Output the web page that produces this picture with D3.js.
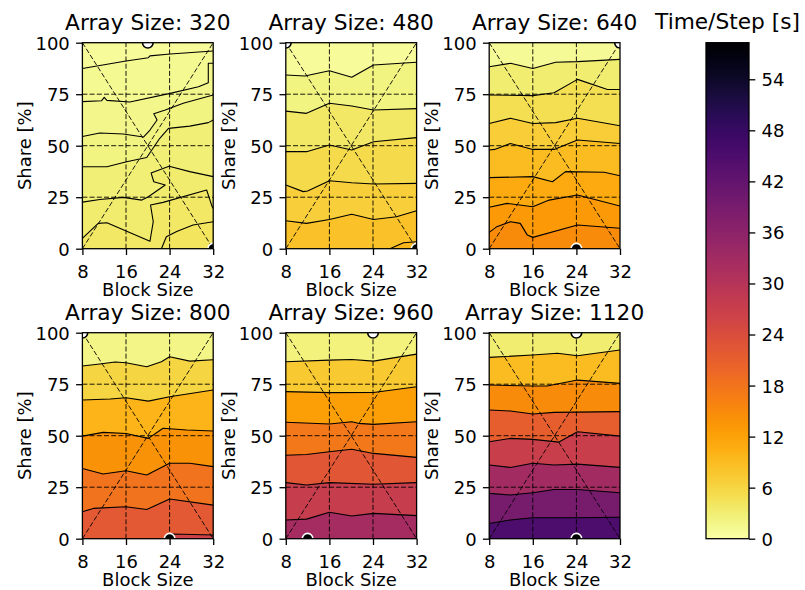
<!DOCTYPE html>
<html>
<head>
<meta charset="utf-8">
<script src="https://cdn.jsdelivr.net/npm/d3@7"></script>
<style>
  body { margin: 0; background: #fff; }
  svg { display: block; font-family: "DejaVu Sans", sans-serif; }
</style>
</head>
<body>
<svg id="chart" width="805" height="590"></svg>
<script>
// ---- data -------------------------------------------------------------
const arraySizes = [320, 480, 640, 800, 960, 1120];
const blockTicks = [8, 16, 24, 32];
const shareTicks = [0, 25, 50, 75, 100];
const cbarTicks = [0, 6, 12, 18, 24, 30, 36, 42, 48, 54];
const timeMax = 58.3;

// time/step value of each filled band, listed from the top band down
const bands320 = [0.75, 1.25, 1.75, 2.25, 2.75, 3.25, 3.75, 4.25];
const bands480 = [0.75, 2.25, 3.75, 5.25, 6.75, 8.25, 9.75];
const bands640 = [1, 3, 5, 7, 9, 11, 13, 15];
const bands800 = [2, 6, 10, 14, 18, 22, 26];
const bands960 = [2.5, 7.5, 12.5, 17.5, 22.5, 27.5, 32.5];
const bands1120 = [3, 9, 15, 21, 27, 33, 39, 45];

// contour boundaries between bands, [block size, share %], top boundary first
const contours320 = [
  [[8,87.5],[16,91.1],[20.1,92.7],[20.4,93.6],[24.1,94.5],[32,96]],
  [[8,71.4],[11.5,71.8],[12,73.5],[12.5,72],[16.7,71.2],[24.1,75.4],[29.3,78.6],[31.1,80.6],[31.1,90],[32,90]],
  [[8,54.5],[11.2,56.2],[15.5,55.7],[19.2,54.2],[20.4,57.6],[21.7,62.5],[21.1,65.5],[23.2,67.3],[26.5,70.6],[32,74.6]],
  [[8,39.8],[12.5,39.8],[16.1,42.2],[19.8,44.3],[22.2,53.6],[23.8,58.4],[27.7,59.5],[31.1,61.2],[32,62.5]],
  [[8,22.6],[11.2,23.9],[15.5,24.9],[18.9,23.6],[20.1,25.2],[23.2,30.9],[21.1,32.5],[20.6,36.8],[23.9,40],[27.7,37.4],[32,35]],
  [[8,5],[10.9,12.3],[12.5,12.6],[20.4,3.6],[21,13.1],[20.5,21.2],[22.8,22.5],[30.8,28.5],[31.8,20.4],[32,19.6]],
  [[22.5,0],[23.4,5.8],[25.3,8.3],[28.3,11.5],[32,13.1]]
];
const contours480 = [
  [[8,84.3],[11.5,83.8],[16,86.4],[20.1,83.2],[24.1,89.2],[32,90.5]],
  [[8,66.8],[11.8,65.7],[16,70.6],[20.1,69.3],[24.1,67.3],[32,68]],
  [[8,47.1],[11.8,47.1],[16,50.3],[20.1,47.9],[24.1,51.9],[32,53.9]],
  [[8,30.9],[11.2,27.7],[12,28],[16,33],[20.1,32],[24.1,31.4],[32,31.7]],
  [[8,13.6],[11.8,12.3],[16,14.2],[20.1,16.7],[24.1,14.2],[28.3,15.5],[32,18.4]],
  [[27.1,0],[29.6,2.9],[32,3.4]]
];
const contours640 = [
  [[8,88.3],[11.9,90],[16,87.5],[20.2,90.5],[24.2,90.8],[32,91.9]],
  [[8,74.6],[16,74.3],[19.9,75.7],[24.2,82.2],[29.7,77.3],[32,77.3]],
  [[8,60.8],[11.9,63.3],[16,60.8],[20.2,61.2],[24.2,63.3],[32,59.7]],
  [[8,47.9],[9,48.2],[11.9,51.1],[16,48.2],[19.9,48.2],[24.2,52.8],[32,51.1]],
  [[8,34.5],[16,35],[19.6,32.5],[22,37.4],[29.1,37.1],[32,35.4]],
  [[8,20.1],[11.3,22],[16,20.4],[19,23.6],[24.2,26.1],[32,20.7]],
  [[8,7.9],[9.4,10.7],[11.9,13.1],[13.7,12.3],[15,6.6],[16,5.5],[24.2,11.5],[32,9.9]]
];
const contours800 = [
  [[8,83.8],[11.2,84.8],[14,85.8],[16,85.4],[19.8,83.5],[22.5,85.9],[24,88.3],[27.7,86.2],[32,86.9]],
  [[8,67.3],[13.1,67.8],[16,68.4],[20.1,66.8],[24,68.9],[32,72.2]],
  [[8,49.8],[11.8,51.6],[16,51.1],[20.1,48.7],[22.8,53.6],[27.1,52.8],[32,52.3]],
  [[8,34.1],[11.8,31.4],[16,33],[19.8,30.9],[24,36.6],[27.7,36.6],[32,35]],
  [[8,13.1],[10,14.7],[16,15.5],[19.8,14.2],[24,19.3],[32,16.3]],
  [[24,0],[24.4,2.3],[32,1.8]]
];
const contours960 = [
  [[8,85.9],[16,86.7],[20.1,87],[24.1,86.2],[32,89.6]],
  [[8,71.4],[16,70.9],[24.1,71],[32,73.8]],
  [[8,56.5],[16,55.7],[20.1,56.8],[21.3,56],[24.1,55.5],[32,56.8]],
  [[8,40.5],[11.8,40.9],[16,42.2],[20.1,43.4],[24.1,41.4],[32,39.5]],
  [[8,27.2],[11.8,26.1],[16,27.2],[24.1,26.4],[32,27.2]],
  [[8,9.1],[11.8,9.5],[16,12.8],[20.1,11],[24.1,12.3],[32,11.2]]
];
const contours1120 = [
  [[8,88],[16,89.2],[20.5,90],[24.2,88.8],[32,91.6]],
  [[8,74.6],[16,74.1],[18.6,74.1],[24.2,77],[32,75.4]],
  [[8,62.5],[11.9,62],[16,60.5],[19.9,61.3],[32,61.7]],
  [[8,47.1],[11.9,48.7],[16,48.2],[20.8,46.9],[24.2,51.9],[32,49.8]],
  [[8,35.8],[11.9,34.6],[16,36.6],[19.9,35.8],[24.2,36.2],[32,34.6]],
  [[8,22],[11.9,21.2],[16,22.3],[19.9,23.9],[24.2,23.9],[32,22.3]],
  [[8,7.4],[11.9,9.1],[16,10.2],[24.2,10.2],[32,10.4]]
];

// fastest and slowest configurations, [block size, share %]
const fastest = [[20,100],[8,100],[32,100],[8,100],[24,100],[24,100]];
const slowest = [[32,0],[32,0],[24,0],[24,0],[12,0],[24,0]];

const panelBands = [bands320, bands480, bands640, bands800, bands960, bands1120];
const panelContours = [contours320, contours480, contours640, contours800, contours960, contours1120];

// ---- layout -------------------------------------------------------------
const colLeft = [82.4, 285.8, 489.2];
const rowTop = [42.7, 332.7];
const plotW = 130.8, plotH = 206;
const tickLen = 6.3, tickPad = 6.3;
const fontTick = 18, fontTitle = 21.7;

const color = v => d3.interpolateInferno(1 - v / timeMax);
const svg = d3.select("#chart");
const defs = svg.append("defs");

arraySizes.forEach((size, i) => {
  const left = colLeft[i % 3];
  const top = rowTop[Math.floor(i / 3)];
  const x = d3.scaleLinear().domain([8, 32]).range([left, left + plotW]);
  const y = d3.scaleLinear().domain([0, 100]).range([top + plotH, top]);
  const line = d3.line().x(d => x(d[0])).y(d => y(d[1]));

  const clipId = "clip" + i;
  defs.append("clipPath").attr("id", clipId)
    .append("rect").attr("x", left).attr("y", top).attr("width", plotW).attr("height", plotH);

  const g = svg.append("g").attr("clip-path", `url(#${clipId})`);
  const bands = panelBands[i];
  const contours = panelContours[i];

  // filled bands: top band as background, each lower band painted beneath its boundary
  g.append("rect").attr("x", left).attr("y", top).attr("width", plotW).attr("height", plotH)
    .attr("fill", color(bands[0]));
  contours.forEach((c, k) => {
    const poly = c.concat([[c[c.length - 1][0], 0], [c[0][0], 0]]);
    g.append("path").attr("d", line(poly) + "Z")
      .attr("fill", color(bands[k + 1]))
      .attr("stroke", color(bands[k + 1])).attr("stroke-width", 0.4);
  });
  // contour lines
  contours.forEach(c => {
    g.append("path").attr("d", line(c)).attr("fill", "none")
      .attr("stroke", "#000").attr("stroke-width", 1.1).attr("stroke-linejoin", "round");
  });

  // dashed guides: grid and the two diagonals
  const dash = "5,2.2";
  const guides = g.append("g").attr("stroke", "#000").attr("stroke-width", 0.9)
    .attr("stroke-dasharray", dash).attr("fill", "none");
  [16, 24].forEach(b => guides.append("line")
    .attr("x1", x(b)).attr("x2", x(b)).attr("y1", y(0)).attr("y2", y(100)));
  [25, 50, 75].forEach(s => guides.append("line")
    .attr("x1", x(8)).attr("x2", x(32)).attr("y1", y(s)).attr("y2", y(s)));
  guides.append("line").attr("x1", x(8)).attr("y1", y(0)).attr("x2", x(32)).attr("y2", y(100));
  guides.append("line").attr("x1", x(8)).attr("y1", y(100)).attr("x2", x(32)).attr("y2", y(0));

  // markers
  g.append("circle").attr("cx", x(fastest[i][0])).attr("cy", y(fastest[i][1])).attr("r", 5.3)
    .attr("fill", "#fff").attr("stroke", "#000").attr("stroke-width", 1.6);
  g.append("circle").attr("cx", x(slowest[i][0])).attr("cy", y(slowest[i][1])).attr("r", 5.3)
    .attr("fill", "#000").attr("stroke", "#fff").attr("stroke-width", 1.6);

  // frame
  svg.append("rect").attr("x", left).attr("y", top).attr("width", plotW).attr("height", plotH)
    .attr("fill", "none").attr("stroke", "#000").attr("stroke-width", 1.3);

  // axes
  const ax = svg.append("g").attr("transform", `translate(0,${top + plotH})`)
    .call(d3.axisBottom(x).tickValues(blockTicks).tickSize(tickLen).tickPadding(tickPad).tickSizeOuter(0));
  const ay = svg.append("g").attr("transform", `translate(${left},0)`)
    .call(d3.axisLeft(y).tickValues(shareTicks).tickSize(tickLen).tickPadding(tickPad).tickSizeOuter(0));
  [ax, ay].forEach(a => {
    a.select(".domain").remove();
    a.selectAll(".tick line").attr("stroke", "#000").attr("stroke-width", 1.3);
    a.selectAll(".tick text").attr("fill", "#000")
      .style("font-size", fontTick + "px").style("font-family", "DejaVu Sans");
  });
  ax.selectAll(".tick text").attr("dy", "0.94em");
  ay.selectAll(".tick text").attr("dy", "0.36em");

  // labels
  svg.append("text").attr("x", left + plotW / 2).attr("y", top - 13)
    .attr("text-anchor", "middle").style("font-size", fontTitle + "px")
    .text("Array Size: " + size);
  svg.append("text").attr("x", left + plotW / 2).attr("y", top + plotH + 47.3)
    .attr("text-anchor", "middle").style("font-size", fontTick + "px")
    .text("Block Size");
  svg.append("text")
    .attr("transform", `translate(${left - 51},${top + plotH / 2}) rotate(-90)`)
    .attr("text-anchor", "middle").style("font-size", fontTick + "px")
    .text("Share [%]");
});

// ---- colour bar ---------------------------------------------------------
const cbX = 706, cbW = 43, cbTop = 42.7, cbBottom = 538.7;
const cbScale = d3.scaleLinear().domain([0, timeMax]).range([cbBottom, cbTop]);
const grad = defs.append("linearGradient").attr("id", "cbGrad")
  .attr("x1", 0).attr("y1", 1).attr("x2", 0).attr("y2", 0);
d3.range(0, 1.0001, 0.01).forEach(t => {
  grad.append("stop").attr("offset", t).attr("stop-color", color(t * timeMax));
});
svg.append("rect").attr("x", cbX).attr("y", cbTop).attr("width", cbW).attr("height", cbBottom - cbTop)
  .attr("fill", "url(#cbGrad)").attr("stroke", "#000").attr("stroke-width", 1.3);
const cax = svg.append("g").attr("transform", `translate(${cbX + cbW},0)`)
  .call(d3.axisRight(cbScale).tickValues(cbarTicks).tickSize(tickLen).tickPadding(tickPad).tickSizeOuter(0));
cax.select(".domain").remove();
cax.selectAll(".tick line").attr("stroke", "#000").attr("stroke-width", 1.3);
cax.selectAll(".tick text").attr("fill", "#000").attr("dy", "0.36em")
  .style("font-size", fontTick + "px").style("font-family", "DejaVu Sans");
svg.append("text").attr("x", cbX + cbW / 2).attr("y", 29)
  .attr("text-anchor", "middle").style("font-size", fontTitle + "px")
  .text("Time/Step [s]");
</script>
</body>
</html>
